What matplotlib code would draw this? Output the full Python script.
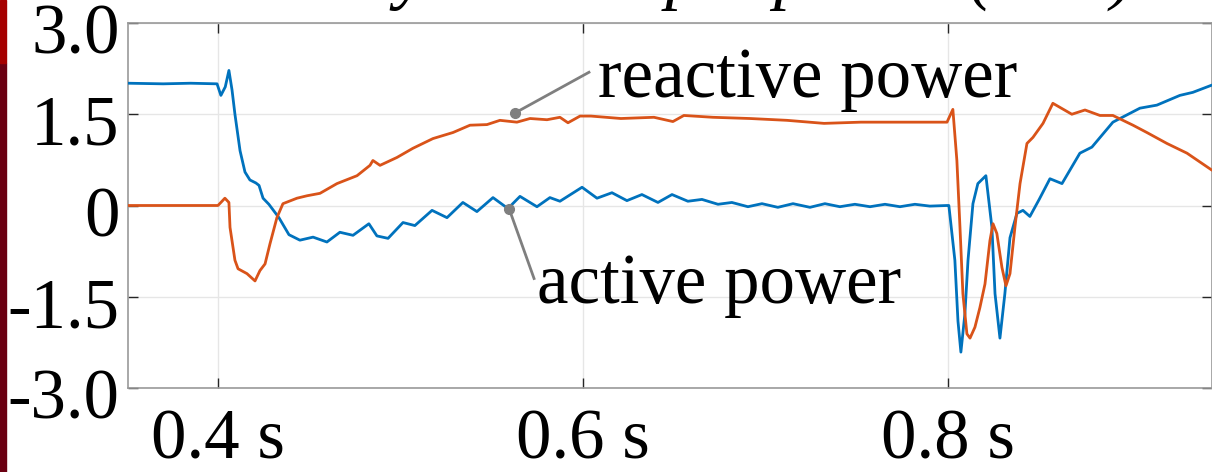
import matplotlib
matplotlib.use('Agg')
import matplotlib.pyplot as plt
import matplotlib.transforms as mtransforms
from matplotlib.patches import Rectangle

# active power (blue)
t_active = [0.3507, 0.370, 0.385, 0.3995, 0.4016, 0.4040, 0.4060, 0.4077, 0.4093, 0.4121,
            0.4148, 0.4175, 0.4208, 0.4225, 0.4247, 0.4279, 0.4334, 0.4389, 0.4449, 0.4521,
            0.4597, 0.4668, 0.4740, 0.4827, 0.4871, 0.4932, 0.5014, 0.5079, 0.5173, 0.5255,
            0.5342, 0.5419, 0.5507, 0.5589, 0.5655, 0.5748, 0.5819, 0.5874, 0.5995, 0.6077,
            0.6159, 0.6241, 0.6323, 0.6411, 0.6488, 0.6575, 0.6652, 0.6740, 0.6816, 0.6904,
            0.6981, 0.7068, 0.7151, 0.7244, 0.7326, 0.7408, 0.7490, 0.7573, 0.7655, 0.7737,
            0.7819, 0.7901, 0.7995, 0.8005, 0.8038, 0.8055, 0.8071, 0.8093, 0.8110, 0.8137,
            0.8164, 0.8208, 0.8241, 0.8258, 0.8285, 0.8312, 0.8340, 0.8378, 0.8411, 0.8449,
            0.8500, 0.8559, 0.8625, 0.8723, 0.8789, 0.8904, 0.9052, 0.9145, 0.9271, 0.9342,
            0.9447]
p_active = [2.01, 2.00, 2.01, 2.00, 1.81, 1.95, 2.22, 1.90, 1.50, 0.90,
            0.55, 0.42, 0.37, 0.33, 0.12, 0.02, -0.20, -0.48, -0.57, -0.52,
            -0.60, -0.44, -0.49, -0.30, -0.50, -0.54, -0.28, -0.33, -0.08, -0.20,
            0.05, -0.10, 0.13, -0.05, 0.15, -0.02, 0.13, 0.07, 0.30, 0.12,
            0.21, 0.08, 0.18, 0.05, 0.18, 0.07, 0.10, 0.02, 0.05, -0.02,
            0.03, -0.03, 0.03, -0.03, 0.03, -0.02, 0.02, -0.02, 0.02, -0.02,
            0.02, -0.01, 0.00, 0.00, -0.90, -1.90, -2.41, -1.78, -0.90, 0.03,
            0.36, 0.49, -0.36, -1.45, -2.18, -1.45, -0.53, -0.13, -0.08, -0.18,
            0.10, 0.44, 0.36, 0.86, 0.96, 1.37, 1.60, 1.65, 1.81, 1.86,
            1.98]

# reactive power (orange)
t_reactive = [0.3507, 0.390, 0.4000, 0.4038, 0.4060, 0.4066, 0.4093, 0.4110, 0.4159, 0.4203,
              0.4230, 0.4258, 0.4285, 0.4323, 0.4356, 0.4433, 0.4488, 0.4559, 0.4652, 0.4762,
              0.4833, 0.4849, 0.4888, 0.4981, 0.5068, 0.5178, 0.5288, 0.5381, 0.5474, 0.5545,
              0.5638, 0.5710, 0.5803, 0.5874, 0.5918, 0.5984, 0.6044, 0.6208, 0.6389, 0.6493,
              0.6553, 0.6712, 0.6915, 0.7118, 0.7321, 0.7523, 0.7732, 0.7995, 0.8027, 0.8049,
              0.8066, 0.8082, 0.8104, 0.8121, 0.8148, 0.8175, 0.8203, 0.8230, 0.8247, 0.8268,
              0.8296, 0.8318, 0.8340, 0.8367, 0.8395, 0.8433, 0.8466, 0.8521, 0.8575, 0.8679,
              0.8751, 0.8833, 0.8904, 0.9014, 0.9090, 0.9200, 0.9310, 0.9447]
q_reactive = [0.00, 0.00, 0.00, 0.12, 0.05, -0.36, -0.90, -1.04, -1.12, -1.24,
              -1.07, -0.96, -0.63, -0.20, 0.03, 0.12, 0.16, 0.20, 0.36, 0.49,
              0.66, 0.74, 0.66, 0.79, 0.94, 1.10, 1.20, 1.32, 1.33, 1.40,
              1.37, 1.43, 1.41, 1.45, 1.36, 1.47, 1.47, 1.43, 1.45, 1.38,
              1.48, 1.45, 1.43, 1.40, 1.35, 1.37, 1.37, 1.37, 1.58, 0.74,
              -0.36, -1.45, -2.11, -2.18, -2.00, -1.68, -1.29, -0.58, -0.30, -0.46,
              -1.02, -1.32, -1.12, -0.36, 0.36, 1.02, 1.12, 1.35, 1.68, 1.50,
              1.57, 1.48, 1.48, 1.32, 1.20, 1.02, 0.86, 0.58]

x_ticks = [0.4, 0.6, 0.8]
x_labels = ['0.4 s', '0.6 s', '0.8 s']
y_ticks = [-3.0, -1.5, 0, 1.5, 3.0]
y_labels = ['-3.0', '-1.5', '0', '1.5', '3.0']

plt.rcParams['font.family'] = ['Liberation Serif', 'DejaVu Serif']

fig = plt.figure(figsize=(12.12, 4.72), dpi=100)
ax = fig.add_axes([128 / 1212, 1 - 388 / 472, 1 - 128 / 1212, 365 / 472])

line_kw = dict(lw=2.0, zorder=3, solid_joinstyle='round', solid_capstyle='round')
ax.plot(t_active, p_active, color='#0072BD', **line_kw)
ax.plot(t_reactive, q_reactive, color='#D95319', **line_kw)

ax.set_xlim(0.3507, 0.9447)
ax.set_ylim(-3.0, 3.0)
ax.set_xticks(x_ticks)
ax.set_xticklabels(x_labels)
ax.set_yticks(y_ticks)
ax.set_yticklabels(y_labels)
ax.grid(True, color='#e6e6e6', lw=1.0)
ax.set_axisbelow(True)

for s in ax.spines.values():
    s.set_color('#999999')
    s.set_linewidth(1.2)
ax.tick_params(direction='in', length=7, width=1, color='#262626',
               top=True, right=True, labelsize=51, labelcolor='black')
ax.tick_params(axis='x', pad=15)
ax.tick_params(axis='y', pad=6)
shift = mtransforms.ScaledTranslation(0, -4 / 72, fig.dpi_scale_trans)
for lab in ax.get_yticklabels():
    lab.set_transform(lab.get_transform() + shift)

# leader lines with dots
ax.plot([0.5627, 0.6033], [1.52, 2.19], color='#7f7f7f', lw=2.0, zorder=4)
ax.plot([0.5627], [1.52], 'o', color='#7f7f7f', ms=7, zorder=4)
ax.text(0.6082, 1.78, 'reactive power', fontsize=51, va='baseline', ha='left')
ax.plot([0.5595, 0.5732], [-0.05, -1.20], color='#7f7f7f', lw=2.0, zorder=4)
ax.plot([0.5595], [-0.05], 'o', color='#7f7f7f', ms=7, zorder=4)
ax.text(0.5748, -1.60, 'active power', fontsize=51, va='baseline', ha='left')

# title, cropped at the top edge so only descenders show
fig.text(1134 / 1212, 1 + 4 / 472, 'System output power (MW)', fontsize=51,
         style='italic', ha='right', va='baseline')

# red strip on left edge
fig.patches.append(Rectangle((0, 0), 6 / 1212, 1 - 63 / 472, transform=fig.transFigure,
                             color='#6b0012', zorder=5))
fig.patches.append(Rectangle((0, 1 - 63 / 472), 6 / 1212, 63 / 472, transform=fig.transFigure,
                             color='#a50000', zorder=5))

fig.savefig('out.png', dpi=100)
